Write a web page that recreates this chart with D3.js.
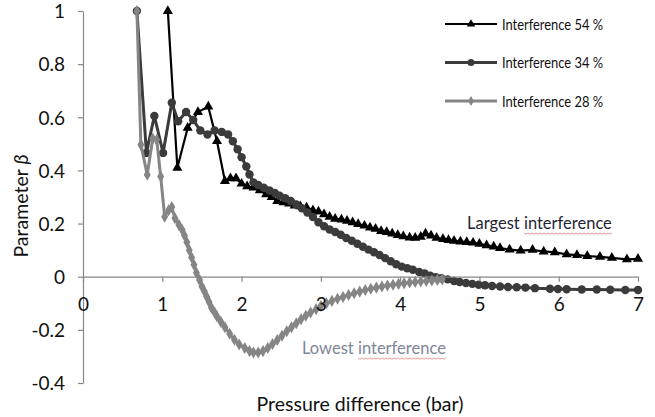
<!DOCTYPE html>
<html><head><meta charset="utf-8">
<script src="https://cdn.jsdelivr.net/npm/d3@7"></script>
<style>body{margin:0;background:#fff}svg{display:block}text{font-family:Lato,"Open Sans",sans-serif}</style>
</head><body><svg id="c" width="655" height="417"></svg>
<script>
// ---- data ----
const seriesNames = ["Interference 54 %", "Interference 34 %", "Interference 28 %"];
const xTicks = [0,1,2,3,4,5,6,7];
const yTicks = [-0.4,-0.2,0,0.2,0.4,0.6,0.8,1];
const yTickLabels = ["-0.4","-0.2","0","0.2","0.4","0.6","0.8","1"];

const x54 = [1.07,1.19,1.32,1.45,1.58,1.69,1.79,1.86,1.93,2.00,2.07,2.15,2.23,2.31,2.38,2.45,2.53,2.60,2.67,2.74,2.82,2.90,2.97,3.04,3.11,3.18,3.26,3.33,3.40,3.47,3.55,3.62,3.69,3.76,3.83,3.90,3.97,4.04,4.12,4.19,4.26,4.32,4.39,4.46,4.54,4.61,4.68,4.76,4.84,4.92,5.00,5.09,5.18,5.26,5.38,5.52,5.67,5.81,5.95,6.10,6.23,6.36,6.52,6.67,6.86,7.00];
const y54 = [1.00,0.41,0.56,0.62,0.64,0.51,0.36,0.37,0.37,0.35,0.34,0.335,0.325,0.31,0.30,0.285,0.28,0.275,0.268,0.265,0.26,0.25,0.245,0.235,0.225,0.218,0.215,0.21,0.205,0.198,0.192,0.185,0.18,0.172,0.168,0.162,0.157,0.152,0.147,0.146,0.150,0.162,0.155,0.146,0.142,0.138,0.135,0.132,0.130,0.128,0.124,0.118,0.113,0.108,0.102,0.098,0.101,0.095,0.092,0.084,0.081,0.078,0.075,0.071,0.065,0.067];

const x34 = [0.68,0.80,0.90,1.01,1.12,1.20,1.30,1.39,1.48,1.57,1.66,1.75,1.83,1.89,1.95,2.00,2.06,2.10,2.15,2.21,2.28,2.35,2.42,2.48,2.55,2.62,2.69,2.76,2.83,2.90,2.97,3.04,3.11,3.18,3.25,3.32,3.39,3.46,3.53,3.60,3.67,3.74,3.81,3.88,3.95,4.02,4.09,4.16,4.24,4.31,4.38,4.45,4.52,4.60,4.68,4.75,4.83,4.91,4.99,5.07,5.16,5.26,5.36,5.47,5.58,5.70,5.89,5.99,6.10,6.29,6.48,6.65,6.84,7.00];
const y34 = [1.00,0.466,0.605,0.466,0.655,0.585,0.62,0.59,0.55,0.535,0.55,0.545,0.535,0.51,0.48,0.45,0.415,0.385,0.355,0.345,0.335,0.325,0.315,0.305,0.295,0.285,0.272,0.258,0.242,0.225,0.205,0.19,0.178,0.168,0.158,0.146,0.135,0.124,0.113,0.102,0.092,0.082,0.07,0.058,0.047,0.038,0.032,0.026,0.018,0.012,0.004,-0.002,-0.006,-0.010,-0.016,-0.020,-0.024,-0.027,-0.030,-0.032,-0.035,-0.037,-0.039,-0.040,-0.041,-0.043,-0.045,-0.046,-0.047,-0.048,-0.048,-0.049,-0.050,-0.050];

const x28 = [0.68,0.73,0.81,0.88,0.93,0.98,1.03,1.08,1.12,1.16,1.21,1.25,1.28,1.31,1.34,1.37,1.40,1.43,1.47,1.50,1.53,1.56,1.59,1.62,1.66,1.69,1.74,1.79,1.85,1.91,1.97,2.04,2.10,2.15,2.21,2.27,2.33,2.39,2.45,2.51,2.57,2.63,2.69,2.75,2.81,2.87,2.94,3.00,3.07,3.14,3.21,3.28,3.35,3.42,3.49,3.56,3.63,3.70,3.77,3.84,3.91,3.98,4.05,4.12,4.19,4.26,4.33,4.40,4.47,4.53];
const y28 = [1.00,0.497,0.384,0.52,0.515,0.377,0.226,0.25,0.262,0.22,0.195,0.177,0.155,0.13,0.10,0.072,0.045,0.015,-0.012,-0.037,-0.055,-0.075,-0.095,-0.117,-0.135,-0.15,-0.17,-0.19,-0.215,-0.237,-0.255,-0.268,-0.28,-0.285,-0.285,-0.28,-0.268,-0.253,-0.238,-0.222,-0.205,-0.19,-0.175,-0.16,-0.147,-0.135,-0.122,-0.11,-0.1,-0.091,-0.083,-0.076,-0.069,-0.062,-0.056,-0.05,-0.045,-0.041,-0.037,-0.033,-0.03,-0.027,-0.025,-0.022,-0.02,-0.018,-0.016,-0.014,-0.012,-0.01];

// ---- drawing ----
const svg = d3.select("#c");
const x = d3.scaleLinear().domain([0,7]).range([83,638]);
const y = d3.scaleLinear().domain([-0.4,1]).range([383,11]);
const axisColor = "#868686";

const series = [
  {name:seriesNames[0], xs:x54, ys:y54, color:"#000000", sym:d3.symbolTriangle, size:44, w:2.2},
  {name:seriesNames[1], xs:x34, ys:y34, color:"#3b3b3b", sym:d3.symbolCircle, size:56, w:3},
  {name:seriesNames[2], xs:x28, ys:y28, color:"#858585", sym:d3.symbolDiamond, size:42, w:3}
];
const line = d3.line().x(d=>x(d[0])).y(d=>y(d[1]));
series.forEach(s=>{
  const pts = s.xs.map((v,i)=>[v,s.ys[i]]);
  svg.append("path").datum(pts).attr("d",line).attr("fill","none")
    .attr("stroke",s.color).attr("stroke-width",s.w).attr("stroke-linejoin","round");
  svg.append("g").selectAll("path").data(pts).join("path")
    .attr("transform",d=>`translate(${x(d[0])},${y(d[1])})`)
    .attr("d",d3.symbol().type(s.sym).size(s.size)).attr("fill",s.color);
});

// y axis
const ya = svg.append("g").attr("transform","translate(83,0)")
  .call(d3.axisLeft(y).tickValues(yTicks).tickSizeInner(5).tickSizeOuter(0)
    .tickFormat((d,i)=>yTickLabels[i]));
ya.select(".domain").attr("stroke",axisColor).attr("stroke-width",1.2);
ya.selectAll(".tick line").attr("stroke",axisColor).attr("stroke-width",1.2);
ya.selectAll(".tick text").attr("font-size",19).attr("fill","#111").attr("x",-18).attr("dy","0.36em");

// x axis at y=0 (labels drawn over the series, as in the reference)
const xa = svg.append("g").attr("transform",`translate(0,${y(0)})`)
  .call(d3.axisBottom(x).tickValues(xTicks).tickSizeInner(5).tickSizeOuter(0).tickFormat(d3.format("d")));
xa.select(".domain").attr("stroke",axisColor).attr("stroke-width",1.2);
xa.selectAll(".tick line").attr("stroke",axisColor).attr("stroke-width",1.2);
xa.selectAll(".tick text").attr("font-size",19).attr("fill","#111").attr("y",27).attr("dy","0.36em");

// legend
const lg = svg.append("g");
series.forEach((s,i)=>{
  const yy = 24 + i*38.5;
  lg.append("line").attr("x1",445).attr("x2",497).attr("y1",yy).attr("y2",yy)
    .attr("stroke",s.color).attr("stroke-width",s.w);
  lg.append("path").attr("transform",`translate(471,${yy})`)
    .attr("d",d3.symbol().type(s.sym).size(s.size*0.7)).attr("fill",s.color);
  lg.append("text").attr("x",502).attr("y",yy).attr("dy","0.36em")
    .attr("font-size",15.5).attr("textLength",101).attr("lengthAdjust","spacingAndGlyphs")
    .attr("fill","#111").text(s.name);
});

// annotations with spell-check style underline
function annot(tx,ty,first,word,color){
  const t = svg.append("text").attr("x",tx).attr("y",ty).attr("font-size",16.5).attr("fill",color);
  t.append("tspan").text(first);
  t.append("tspan").text(word);
  const node = t.node();
  const x0 = tx + node.getSubStringLength(0, first.length);
  const x1 = tx + node.getComputedTextLength();
  let d = `M${x0},${ty+4}`;
  for(let xx=x0, k=0; xx<x1; xx+=2, k++) d += `L${Math.min(xx+2,x1)},${ty+4+(k%2?0:1.2)}`;
  svg.append("path").attr("d",d).attr("fill","none").attr("stroke","#e88a8a").attr("stroke-width",0.9);
}
annot(467,229,"Largest ","interference","#1f2636");
annot(302,354,"Lowest ","interference","#7d8797");

// axis titles
svg.append("text").attr("x",360).attr("y",411).attr("text-anchor","middle")
  .attr("font-size",19.5).attr("fill","#111").text("Pressure difference (bar)");
const yl = svg.append("text").attr("transform","translate(28,206) rotate(-90)")
  .attr("text-anchor","middle").attr("font-size",19.5).attr("fill","#111");
yl.append("tspan").text("Parameter ");
yl.append("tspan").attr("font-style","italic").text("β");
</script></body></html>
